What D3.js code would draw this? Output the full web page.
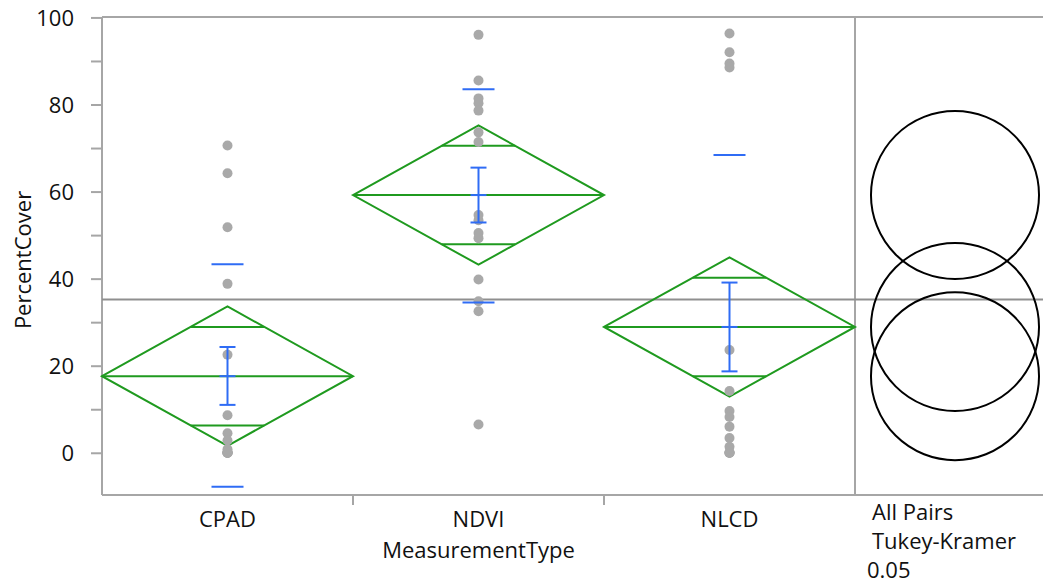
<!DOCTYPE html>
<html>
<head>
<meta charset="utf-8">
<script src="https://cdn.jsdelivr.net/npm/d3@7"></script>
<style>
  html, body { margin: 0; padding: 0; background: #fff; }
  text { font-family: "Open Sans", "Noto Sans", sans-serif; fill: #111; }
</style>
</head>
<body>
<svg id="chart" width="1043" height="583"></svg>
<script>
// ---- data ----
const categories = ["CPAD", "NDVI", "NLCD"];
const pointsCPAD = [70.6, 64.2, 51.8, 38.8, 22.5, 8.6, 4.5, 2.8, 0.8, 0, 0, 0, 0, 0, 0];
const pointsNDVI = [96.0, 85.5, 81.4, 80.3, 78.6, 73.6, 71.4, 54.6, 53.4, 50.5, 49.3, 39.8, 34.8, 32.5, 6.5];
const pointsNLCD = [96.3, 92.0, 89.4, 88.5, 23.6, 14.2, 9.6, 8.2, 6.0, 3.4, 1.4, 0, 0, 0, 0];
const means = [17.6, 59.2, 28.9];
const ciLow = [1.6, 43.2, 12.9];
const ciHigh = [33.6, 75.2, 44.9];
const seLow = [11.0, 52.9, 18.7];
const seHigh = [24.3, 65.5, 39.1];
const sdLow = [-7.8, 34.5, -10.5];
const sdHigh = [43.3, 83.5, 68.4];
const grandMean = 35.2;
const circleRadius = [19.3, 19.3, 19.3];
const yTicks = [0, 20, 40, 60, 80, 100];
const yMinorTicks = [10, 30, 50, 70, 90];
const circleLabels = ["All Pairs", "Tukey-Kramer", "0.05"];
const xTitle = "MeasurementType";
const yTitle = "PercentCover";

const pointsByCat = [pointsCPAD, pointsNDVI, pointsNLCD];

(function () {
// ---- layout ----
const svg = d3.select("#chart");
const pLeft = 102, pRight = 855, pTop = 17, pBottom = 495, fullRight = 1043;
const circleCx = 955;
const green = "#1f9a1f", blue = "#2f6cf5", axisGray = "#a6a6a6", meanGray = "#8f8f8f", ptGray = "#a9a9a9";
const fs = 22;

const y = d3.scaleLinear().domain([-9.7, 100.1]).range([pBottom, pTop]);
const x = d3.scaleBand().domain(categories).range([pLeft, pRight]).padding(0);
const bw = x.bandwidth();

// frame lines
svg.append("line").attr("x1", pLeft).attr("x2", fullRight).attr("y1", pTop).attr("y2", pTop)
  .attr("stroke", axisGray).attr("stroke-width", 2);
svg.append("line").attr("x1", pLeft).attr("x2", fullRight).attr("y1", pBottom).attr("y2", pBottom)
  .attr("stroke", axisGray).attr("stroke-width", 2);
svg.append("line").attr("x1", pRight).attr("x2", pRight).attr("y1", pTop).attr("y2", pBottom)
  .attr("stroke", axisGray).attr("stroke-width", 2);

// y axis
const yAxis = d3.axisLeft(y).tickValues(yTicks.concat(yMinorTicks)).tickSize(11)
  .tickFormat(d => yTicks.includes(d) ? d : "");
const gy = svg.append("g").attr("transform", `translate(${pLeft},0)`).call(yAxis);
gy.select(".domain").attr("stroke", axisGray).attr("stroke-width", 2)
  .attr("d", `M0,${pTop}V${pBottom}`);
gy.selectAll(".tick line").attr("stroke", axisGray).attr("stroke-width", 2);
gy.selectAll(".tick text").attr("font-size", fs).attr("x", -28).attr("dy", "0.35em")
  .style("font-family", '"Open Sans", "Noto Sans", sans-serif').attr("fill", "#111");

// x axis (ticks at category boundaries)
const gx = svg.append("g").attr("transform", `translate(0,${pBottom})`);
categories.slice(1).forEach(c => {
  gx.append("line").attr("x1", x(c)).attr("x2", x(c)).attr("y1", 0).attr("y2", 10)
    .attr("stroke", axisGray).attr("stroke-width", 2);
});
categories.forEach(c => {
  gx.append("text").attr("x", x(c) + bw / 2).attr("y", 32).attr("text-anchor", "middle")
    .attr("font-size", fs).text(c);
});
svg.append("text").attr("x", (pLeft + pRight) / 2).attr("y", 558).attr("text-anchor", "middle")
  .attr("font-size", fs).text(xTitle);
svg.append("text").attr("transform", `translate(31,260) rotate(-90)`).attr("text-anchor", "middle")
  .attr("font-size", fs).text(yTitle);

// grand mean line
svg.append("line").attr("x1", pLeft).attr("x2", fullRight).attr("y1", y(grandMean)).attr("y2", y(grandMean))
  .attr("stroke", meanGray).attr("stroke-width", 2);

// diamonds
categories.forEach((c, i) => {
  const x0 = x(c), x1 = x(c) + bw, cx = x(c) + bw / 2;
  const g = svg.append("g");
  const pts = [[x0, y(means[i])], [cx, y(ciHigh[i])], [x1, y(means[i])], [cx, y(ciLow[i])]];
  g.append("path").attr("d", d3.line()(pts) + "Z").attr("fill", "none")
    .attr("stroke", green).attr("stroke-width", 2);
  g.append("line").attr("x1", x0).attr("x2", x1).attr("y1", y(means[i])).attr("y2", y(means[i]))
    .attr("stroke", green).attr("stroke-width", 2);
  const half = (ciHigh[i] - ciLow[i]) / 2;
  const off = half / Math.SQRT2;
  const hw = (1 - 1 / Math.SQRT2) * bw / 2;
  [means[i] + off, means[i] - off].forEach(v => {
    g.append("line").attr("x1", cx - hw).attr("x2", cx + hw).attr("y1", y(v)).attr("y2", y(v))
      .attr("stroke", green).attr("stroke-width", 2);
  });
});

// points
categories.forEach((c, i) => {
  const cx = x(c) + bw / 2;
  svg.append("g").selectAll("circle").data(pointsByCat[i]).join("circle")
    .attr("cx", cx).attr("cy", d => y(d)).attr("r", 5).attr("fill", ptGray);
});

// blue error bars and SD dashes
const [dMin, dMax] = y.domain();
categories.forEach((c, i) => {
  const cx = x(c) + bw / 2;
  const g = svg.append("g").attr("stroke", blue).attr("stroke-width", 2);
  g.append("line").attr("x1", cx).attr("x2", cx).attr("y1", y(seLow[i])).attr("y2", y(seHigh[i]));
  [seLow[i], seHigh[i], means[i]].forEach(v => {
    g.append("line").attr("x1", cx - 8).attr("x2", cx + 8).attr("y1", y(v)).attr("y2", y(v));
  });
  [sdLow[i], sdHigh[i]].filter(v => v >= dMin && v <= dMax).forEach(v => {
    g.append("line").attr("x1", cx - 16).attr("x2", cx + 16).attr("y1", y(v)).attr("y2", y(v));
  });
});

// comparison circles
const unit = y(0) - y(1);
svg.append("g").selectAll("circle").data(means).join("circle")
  .attr("cx", circleCx).attr("cy", d => y(d)).attr("r", (d, i) => circleRadius[i] * unit)
  .attr("fill", "none").attr("stroke", "#000").attr("stroke-width", 2);

// circle labels
const lblX = [872, 872, 867], lblY = [520, 549, 578];
circleLabels.forEach((t, i) => {
  svg.append("text").attr("x", lblX[i]).attr("y", lblY[i]).attr("font-size", fs).text(t);
});
})();
</script>
</body>
</html>
